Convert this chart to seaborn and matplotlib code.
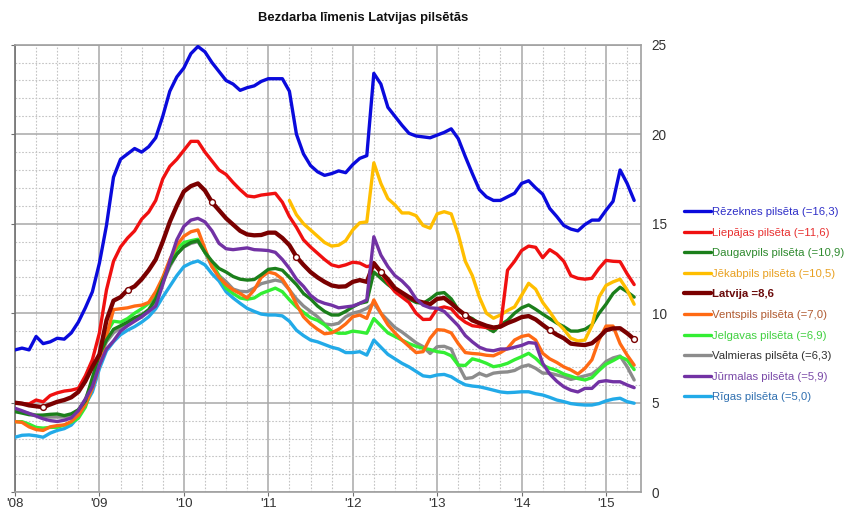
import numpy as np
import pandas as pd
import matplotlib
matplotlib.use("Agg")
import matplotlib.pyplot as plt
from matplotlib.lines import Line2D
from matplotlib.ticker import MultipleLocator, FixedLocator
import seaborn as sns

# ---------------- data (monthly, Jan 2008 .. May 2015) ----------------
year_labels = ["'08", "'09", "'10", "'11", "'12", "'13", "'14", "'15"]

rezekne = [7.95, 8.05, 7.95, 8.7, 8.3, 8.4, 8.6, 8.55, 8.9, 9.5, 10.3, 11.2,
           12.8, 14.9, 17.6, 18.6, 18.9, 19.2, 19.0, 19.3, 19.8, 21.0, 22.4, 23.2,
           23.7, 24.5, 24.9, 24.6, 24.0, 23.5, 23.0, 22.8, 22.45, 22.6, 22.7, 22.95,
           23.1, 23.1, 23.1, 22.4, 20.0, 18.9, 18.25, 17.9, 17.7, 17.8, 17.95, 17.85,
           18.3, 18.65, 18.8, 23.4, 22.8, 21.5, 21.0, 20.5, 20.05, 19.9, 19.85, 19.8,
           19.95, 20.1, 20.3, 19.75, 18.75, 17.8, 16.9, 16.5, 16.3, 16.3, 16.5, 16.7,
           17.25, 17.4, 17.0, 16.65, 15.85, 15.4, 14.9, 14.7, 14.6, 14.95, 15.2, 15.2,
           15.75, 16.25, 18.0, 17.25, 16.3]

liepaja = [5.0, 4.95, 4.93, 5.15, 5.05, 5.4, 5.55, 5.65, 5.7, 5.8, 6.5, 7.4,
           8.9, 11.3, 12.9, 13.7, 14.2, 14.6, 15.25, 15.65, 16.3, 17.5, 18.2, 18.6,
           19.1, 19.6, 19.6, 19.0, 18.5, 18.0, 17.75, 17.3, 16.9, 16.55, 16.5, 16.6,
           16.65, 16.7, 16.2, 15.4, 14.8, 14.1, 13.7, 13.35, 13.0, 12.7, 12.6, 12.7,
           12.85, 12.8, 12.6, 12.7, 12.3, 11.7, 11.2, 10.9, 10.6, 10.0, 9.65, 9.66,
           10.25, 10.35, 10.25, 9.8, 9.5, 9.3, 9.25, 9.2, 9.15, 9.25, 12.4, 12.9,
           13.5, 13.75, 13.68, 13.1, 13.55, 13.3, 12.9, 12.1, 11.95, 11.9, 11.95, 12.5,
           12.95, 12.9, 12.88, 12.2, 11.6]

daugavpils = [4.5, 4.42, 4.33, 4.3, 4.31, 4.35, 4.37, 4.28, 4.38, 4.6, 5.1, 6.4,
              7.7, 8.5, 9.1, 9.3, 9.5, 9.75, 9.9, 10.2, 10.8, 11.8, 12.7, 13.3,
              13.72, 13.95, 14.05, 13.4, 12.9, 12.5, 12.3, 12.05, 11.9, 11.85, 11.88, 12.15,
              12.45, 12.5, 12.4, 12.0, 11.6, 11.1, 10.8, 10.4, 10.1, 9.9, 9.9, 10.1,
              10.35, 10.55, 10.64, 12.3, 11.95, 11.6, 11.3, 11.0, 10.8, 10.6, 10.55, 10.8,
              11.1, 11.15, 10.8, 10.2, 9.85, 9.7, 9.4, 9.2, 8.97, 9.35, 9.6, 10.0,
              10.3, 10.46, 10.22, 9.95, 9.7, 9.45, 9.25, 9.0, 9.0, 9.1, 9.35, 9.99,
              10.5, 11.1, 11.45, 11.2, 10.9]

jekabpils_start = 39
jekabpils = [16.3, 15.5, 15.0, 14.65, 14.3, 13.95, 13.75, 13.8, 14.05,
             14.65, 15.05, 15.1, 18.4, 17.25, 16.4, 16.05, 15.6, 15.6, 15.45, 14.9, 14.75,
             15.55, 15.67, 15.55, 14.4, 12.9, 12.1, 10.9, 10.0, 9.72, 9.9, 10.15, 10.35,
             11.0, 11.67, 11.34, 10.6, 10.08, 9.5, 9.1, 8.6, 8.45, 8.5, 9.3, 10.9,
             11.55, 11.75, 11.9, 11.3, 10.5]

latvija = [5.0, 4.95, 4.85, 4.8, 4.75, 4.9, 5.05, 5.15, 5.3, 5.6, 6.2, 7.0,
           7.7, 9.6, 10.7, 10.9, 11.3, 11.5, 11.9, 12.4, 13.0, 14.0, 15.1, 16.0,
           16.8, 17.1, 17.25, 16.85, 16.2, 15.75, 15.3, 14.95, 14.6, 14.4, 14.35, 14.37,
           14.5, 14.5, 14.2, 13.8, 13.15, 12.7, 12.3, 12.0, 11.75, 11.55, 11.48, 11.5,
           11.75, 11.85, 11.75, 12.8, 12.3, 11.9, 11.4, 11.15, 10.9, 10.7, 10.6, 10.5,
           10.8, 10.85, 10.55, 10.2, 9.9, 9.6, 9.45, 9.3, 9.2, 9.25, 9.45, 9.6,
           9.78, 9.84, 9.65, 9.35, 9.06, 8.8, 8.6, 8.3, 8.25, 8.22, 8.32, 8.65,
           9.05, 9.15, 9.16, 8.88, 8.55]

ventspils = [3.94, 3.9, 3.65, 3.5, 3.45, 3.65, 3.72, 3.76, 3.95, 4.3, 4.9, 5.8,
             7.1, 8.7, 10.2, 10.25, 10.3, 10.4, 10.45, 10.6, 11.2, 12.0, 13.0, 13.8,
             14.3, 14.55, 14.65, 13.6, 12.6, 12.0, 11.6, 11.3, 11.1, 10.85, 11.3, 12.0,
             12.3, 12.2, 11.9, 11.3, 10.5, 9.8, 9.4, 9.1, 8.85, 8.9, 9.1, 9.4,
             9.8, 9.9, 9.71, 10.74, 10.0, 9.35, 8.9, 8.5, 8.15, 7.8, 7.85, 8.6,
             9.08, 9.05, 8.9, 8.3, 7.8, 7.75, 7.72, 7.65, 7.62, 7.8, 8.04, 8.5,
             8.7, 8.78, 8.5, 7.76, 7.45, 7.25, 7.0, 6.83, 6.6, 6.92, 7.4, 8.5,
             9.28, 9.28, 8.3, 7.66, 7.1]

jelgava = [3.94, 3.94, 3.8, 3.62, 3.58, 3.62, 3.63, 3.75, 3.9, 4.13, 4.75, 5.9,
           7.2, 8.9, 9.55, 9.5, 9.7, 10.0, 10.25, 10.55, 11.0, 11.95, 12.8, 13.6,
           13.95, 14.05, 14.13, 13.4, 12.8, 12.1, 11.4, 11.1, 10.85, 10.78, 10.85, 11.1,
           11.25, 11.4, 11.2, 10.75, 10.35, 10.05, 9.75, 9.6, 9.35, 9.0, 8.88, 8.88,
           9.0, 8.95, 8.88, 9.7, 9.3, 8.9, 8.7, 8.5, 8.3, 8.15, 8.04, 7.97,
           7.85, 7.8, 7.62, 7.1, 7.08, 7.45, 7.35, 7.2, 7.01, 7.08, 7.2, 7.4,
           7.57, 7.76, 7.48, 7.1, 6.92, 6.8, 6.6, 6.48, 6.35, 6.27, 6.4, 6.8,
           7.15, 7.35, 7.57, 7.39, 6.85]

valmiera = [4.6, 4.5, 4.4, 4.3, 4.25, 4.2, 4.2, 4.2, 4.3, 4.6, 5.2, 6.2,
            7.5, 8.4, 8.9, 9.2, 9.4, 9.6, 9.8, 10.1, 10.7, 11.7, 12.6, 13.3,
            13.7, 13.9, 14.0, 13.4, 12.6, 12.1, 11.76, 11.35, 11.22, 11.2, 11.4, 11.65,
            11.75, 11.85, 11.76, 11.3, 10.8, 10.4, 10.1, 9.8, 9.4, 9.35, 9.44, 9.8,
            10.0, 10.1, 10.27, 10.55, 10.0, 9.6, 9.2, 8.95, 8.65, 8.35, 8.13, 7.75,
            8.13, 8.15, 8.0, 7.1, 6.35, 6.4, 6.64, 6.49, 6.65, 6.7, 6.72, 6.8,
            7.01, 7.11, 6.92, 6.65, 6.65, 6.55, 6.45, 6.3, 6.4, 6.5, 6.6, 6.9,
            7.3, 7.5, 7.61, 7.01, 6.27]

jurmala = [4.69, 4.55, 4.4, 4.25, 4.1, 4.0, 3.95, 4.02, 4.15, 4.55, 5.2, 5.9,
           7.1, 8.0, 8.45, 9.0, 9.3, 9.55, 9.8, 10.1, 10.4, 11.6, 12.9, 14.1,
           14.85, 15.2, 15.3, 15.1, 14.6, 13.9, 13.6, 13.55, 13.6, 13.65, 13.55, 13.53,
           13.5, 13.4, 13.0, 12.5, 11.9, 11.5, 11.0, 10.7, 10.55, 10.45, 10.3, 10.35,
           10.4, 10.55, 10.74, 14.27, 13.25, 12.6, 12.1, 11.8, 11.4, 10.8, 10.45, 10.3,
           10.27, 10.1, 9.7, 9.3, 8.75, 8.4, 8.1, 7.95, 7.9, 8.0, 8.0, 8.1,
           8.2, 8.36, 8.32, 7.2, 6.6, 6.2, 5.89, 5.7, 5.6, 5.8, 5.8, 6.17,
           6.23, 6.17, 6.17, 5.99, 5.84]

riga = [3.07, 3.18, 3.2, 3.15, 3.07, 3.3, 3.45, 3.55, 3.75, 4.2, 4.9, 5.6,
        6.9, 7.9, 8.4, 8.8, 9.05, 9.25, 9.5, 9.8, 10.25, 10.9, 11.5, 12.1,
        12.6, 12.8, 12.92, 12.7, 12.2, 11.8, 11.2, 10.85, 10.55, 10.27, 10.1, 9.95,
        9.9, 9.9, 9.85, 9.55, 9.05, 8.75, 8.5, 8.4, 8.25, 8.1, 8.0, 7.8,
        7.8, 7.85, 7.66, 8.5, 8.1, 7.7, 7.45, 7.2, 7.0, 6.75, 6.5, 6.45,
        6.55, 6.58, 6.45, 6.2, 6.0, 5.93, 5.89, 5.8, 5.7, 5.6, 5.56, 5.58,
        5.61, 5.61, 5.5, 5.43, 5.3, 5.15, 5.06, 4.95, 4.9, 4.87, 4.87, 4.95,
        5.1, 5.2, 5.25, 5.06, 4.97]

labels = ["Rēzeknes pilsēta (=16,3)", "Liepājas pilsēta (=11,6)",
          "Daugavpils pilsēta (=10,9)", "Jēkabpils pilsēta (=10,5)",
          "Latvija =8,6", "Ventspils pilsēta (=7,0)", "Jelgavas pilsēta (=6,9)",
          "Valmieras pilsēta (=6,3)", "Jūrmalas pilsēta (=5,9)", "Rīgas pilsēta (=5,0)"]
colors = ["#0A0ADC", "#F01010", "#1B7F1B", "#FFBE00", "#7A0000",
          "#FF6A14", "#33EE33", "#8C8C8C", "#7232A4", "#22AAE8"]
text_colors = ["#2F2FC8", "#E83030", "#2E8A2E", "#E8A020", "#6A0A0A",
               "#B05A30", "#40D040", "#303030", "#7A4AA8", "#3070B0"]

# ---------------- figure ----------------
sns.set_style("white")
plt.rcParams["font.family"] = ["Liberation Sans", "DejaVu Sans"]

W, H = 848, 514
fig = plt.figure(figsize=(W / 100, H / 100), dpi=100)
L, R, T, B = 15, 640.7, 44.7, 492.2
ax = fig.add_axes([L / W, 1 - B / H, (R - L) / W, (B - T) / H])

n = len(latvija)
months = np.arange(n)

series = [rezekne, liepaja, daugavpils, None, latvija, ventspils,
          jelgava, valmiera, jurmala, riga]
draw_order = [9, 7, 6, 5, 2, 3, 1, 0, 4, 8]
for k in draw_order:
    if k == 3:
        x = months[jekabpils_start:]
        y = jekabpils
    else:
        x = months
        y = series[k]
    df = pd.DataFrame({"m": x, "v": y})
    lw = 3.1 if k == 4 else 2.4
    sns.lineplot(data=df, x="m", y="v", ax=ax, color=colors[k], lw=lw,
                 legend=False, zorder=3 + draw_order.index(k),
                 solid_joinstyle="round", solid_capstyle="round")
    if k == 4:
        sns.lineplot(data=df.iloc[4::12], x="m", y="v", ax=ax, lw=0,
                     marker="o", markersize=4.2, markerfacecolor="white",
                     markeredgecolor=colors[4], markeredgewidth=1.0,
                     legend=False, zorder=20)

ax.set_xlim(0, 88.93)
ax.set_ylim(0, 25)
ax.set_xlabel("")
ax.set_ylabel("")

ax.xaxis.set_major_locator(FixedLocator(np.arange(0, 85, 12)))
ax.set_xticklabels(year_labels)
ax.xaxis.set_minor_locator(MultipleLocator(3))
ax.yaxis.set_major_locator(MultipleLocator(5))
ax.yaxis.set_minor_locator(MultipleLocator(1))

ax.grid(which="major", color="#A8A8A8", lw=1.1, ls="-", zorder=0)
ax.grid(which="minor", color="#C4C4C4", lw=0.8, ls=(0, (1.5, 1.5)), zorder=0)
ax.set_axisbelow(True)

for s in ax.spines.values():
    s.set_color("#A0A0A0")
    s.set_linewidth(1.2)
ax.spines["left"].set_color("#707070")

ax.tick_params(axis="y", which="major", left=True, right=False, labelleft=False,
               labelright=True, length=3, color="#707070", labelsize=9.8,
               labelcolor="#333333", pad=5)
ax.tick_params(axis="y", which="minor", left=False, right=False)
ax.tick_params(axis="x", which="major", bottom=True, length=3, color="#707070",
               labelsize=9.6, labelcolor="#333333", pad=1.5)
ax.tick_params(axis="x", which="minor", bottom=False)

fig.text(363 / W, 1 - 18 / H, "Bezdarba līmenis Latvijas pilsētās",
         ha="center", va="center", fontsize=9.4, fontweight="bold", color="#111111")

handles = [Line2D([], [], color=colors[k], lw=(3.1 if k == 4 else 2.4))
           for k in range(10)]
leg = fig.legend(handles, labels, loc="upper left",
                 bbox_to_anchor=(684 / W, 1 - 207 / H), frameon=False,
                 fontsize=8.2, handlelength=2.35, handletextpad=0.1,
                 labelspacing=0.93, borderaxespad=0, borderpad=0)
for t, c in zip(leg.get_texts(), text_colors):
    t.set_color(c)
leg.get_texts()[4].set_fontweight("bold")

fig.savefig("out.png", dpi=100)
